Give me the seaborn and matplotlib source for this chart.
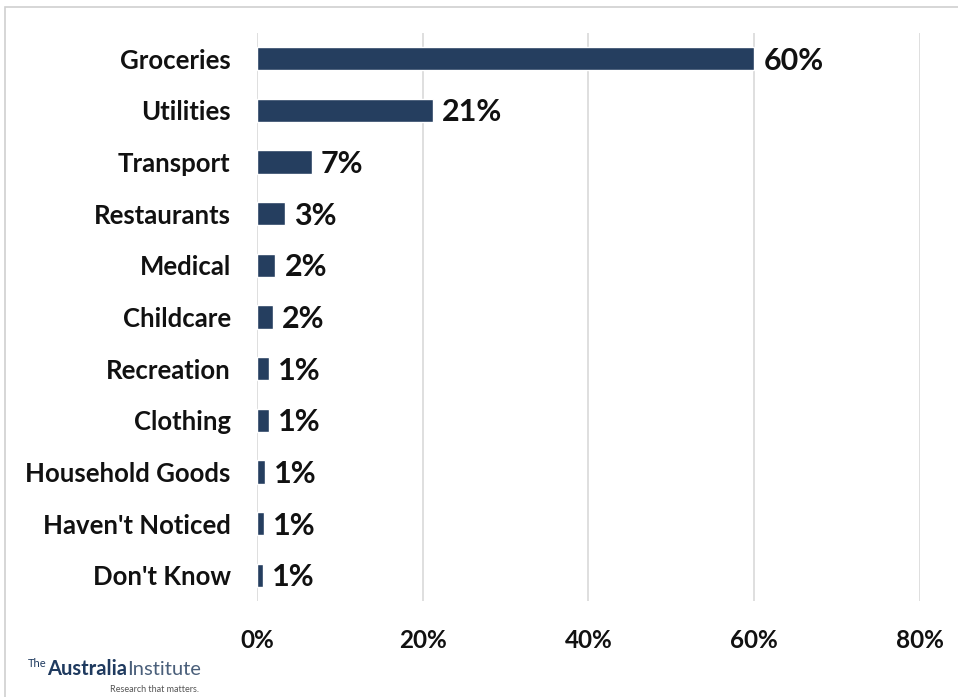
import matplotlib
matplotlib.use("Agg")
import matplotlib.pyplot as plt
from matplotlib.patches import Rectangle
import seaborn as sns
import pandas as pd

categories = ["Groceries", "Utilities", "Transport", "Restaurants", "Medical",
              "Childcare", "Recreation", "Clothing", "Household Goods",
              "Haven't Noticed", "Don't Know"]
shares = [60.0, 21.2, 6.6, 3.4, 2.2, 1.9, 1.4, 1.4, 1.0, 0.8, 0.7]
x_ticks = [0, 20, 40, 60, 80]
x_tick_labels = ["0%", "20%", "40%", "60%", "80%"]

df = pd.DataFrame({"category": categories, "share": shares})

sns.set_theme(style="white")
plt.rcParams["font.family"] = ["Lato", "DejaVu Sans"]

navy = "#253E5F"
fig = plt.figure(figsize=(9.58, 6.97), dpi=100)
ax = fig.add_axes([0.2683, 0.1377, 0.6920, 0.8150])

sns.barplot(data=df, x="share", y="category", orient="h", color=navy,
            width=0.45, saturation=1, ax=ax)

ax.set_xlim(0, 80)
ax.set_xticks(x_ticks)
ax.set_xticklabels(x_tick_labels, fontsize=17.5, fontweight="bold", color="#111111")
ax.set_yticklabels(categories, fontsize=18.5, fontweight="bold", color="#111111")
ax.tick_params(axis="x", length=0, pad=20)
ax.tick_params(axis="y", length=0, pad=19)
ax.set_xlabel("")
ax.set_ylabel("")
for s in ax.spines.values():
    s.set_visible(False)
ax.grid(axis="x", color="#d9d9d9", linewidth=1.2)
ax.grid(axis="y", visible=False)
ax.set_axisbelow(True)

for i, v in enumerate(shares):
    ax.text(v + 1.1, i + 0.04, f"{round(v)}%", va="center", ha="left",
            fontsize=22, fontweight="bold", color="#111111")

# outer frame
fig.patches.append(Rectangle((5 / 958, -0.1), 1.2, 1.1 - 7 / 697,
                             transform=fig.transFigure, fill=False,
                             edgecolor="#d0d0d0", linewidth=1.2))

# logo
fig.canvas.draw()
renderer = fig.canvas.get_renderer()
base_y = 1 - 675 / 697
t_the = fig.text(28 / 958, 1 - 667 / 697, "The", fontsize=8, color="#1f3a5f",
                 ha="left", va="baseline")
bb = t_the.get_window_extent(renderer)
t_aus = fig.text(bb.x1 / 958, base_y, "Australia", fontsize=14.5,
                 color="#1f3a5f", fontweight="bold", ha="left", va="baseline")
bb = t_aus.get_window_extent(renderer)
fig.text(bb.x1 / 958 + 0.001, base_y, "Institute", fontsize=14.5,
         color="#4a5f7a", ha="left", va="baseline")
fig.text(110 / 958, 1 - 692 / 697, "Research that matters.", fontsize=6.5,
         color="#555555", ha="left", va="baseline")

fig.savefig("out.png", dpi=100)
